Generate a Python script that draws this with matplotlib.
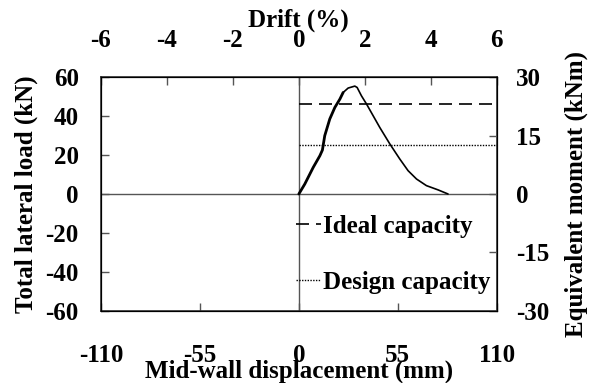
import matplotlib.pyplot as plt

plt.rcParams['font.family'] = 'Liberation Serif'
plt.rcParams['font.weight'] = 'bold'
plt.rcParams['axes.labelweight'] = 'bold'
plt.rcParams['axes.unicode_minus'] = False
plt.rcParams['font.size'] = 18

# data (mm, kN)
disp_rise = [0, 3.3, 8.0, 11.7, 13.1, 14.4, 17.2, 20.0, 22.8, 24.6]
load_rise = [0, 5.1, 13.7, 19.7, 22.6, 30.0, 38.6, 44.5, 48.8, 52.2]
disp_fall = [24.6, 27.4, 31.1, 32.4, 34.8, 37.6, 45.0, 50.6, 56.1, 60.7, 65.4, 70.9, 77.4, 82.9]
load_fall = [52.2, 54.5, 55.5, 54.8, 50.5, 46.3, 34.2, 25.7, 18.0, 12.0, 7.7, 4.3, 2.1, 0]
ideal_cap = 46.4
design_cap = 25.1

xticks = [-110, -55, 0, 55, 110]
yticks = [-60, -40, -20, 0, 20, 40, 60]
drift_ticks = [-6, -4, -2, 0, 2, 4, 6]
moment_ticks = [-30, -15, 0, 15, 30]

fig = plt.figure(figsize=(5.9, 3.83), dpi=100)
ax = fig.add_axes([0.171, 0.189, 0.671, 0.609])

ax.axhline(0, color='#555555', lw=1.0)
ax.axvline(0, color='#555555', lw=1.0)

ax.plot(disp_rise, load_rise, color='black', lw=2.0, solid_capstyle='round')
ax.plot(disp_fall, load_fall, color='black', lw=1.2, solid_capstyle='round')
ax.plot([0, 110], [ideal_cap, ideal_cap], color='black', lw=1.2,
        dashes=(7.8, 4.2), label='Ideal capacity')
ax.plot([0, 110], [design_cap, design_cap], color='black', lw=1.0,
        dashes=(1, 1), label='Design capacity')

ax.set_xlim(-110, 110)
ax.set_ylim(-60, 60)
ax.set_xticks(xticks)
ax.set_yticks(yticks)
ax.tick_params(direction='in', length=6, width=1, color='#555555')
ax.tick_params(axis='x', pad=24)
ax.tick_params(axis='y', pad=16)
ax.set_xlabel('Mid-wall displacement (mm)', labelpad=-5)
ax.set_ylabel('Total lateral load (kN)', labelpad=5)
for s in ax.spines.values():
    s.set_color('#333333')
    s.set_linewidth(1.2)

axt = ax.twiny()
axt.set_xlim(-6, 6)
axt.set_xticks(drift_ticks)
axt.tick_params(direction='in', length=6, width=1, color='#555555', pad=18)
axt.set_xlabel('Drift (%)', labelpad=2)

axr = ax.twinx()
axr.set_ylim(-30, 30)
axr.set_yticks(moment_ticks)
axr.tick_params(direction='in', length=6, width=1, color='#555555', pad=14)
axr.set_ylabel('Equivalent moment (kNm)', labelpad=11)

leg = ax.legend(loc='lower right', bbox_to_anchor=(1.01, 0.03), frameon=False,
                handlelength=1.0, handletextpad=0.1, labelspacing=1.3,
                borderaxespad=0)

fig.savefig('out.png', dpi=100)
